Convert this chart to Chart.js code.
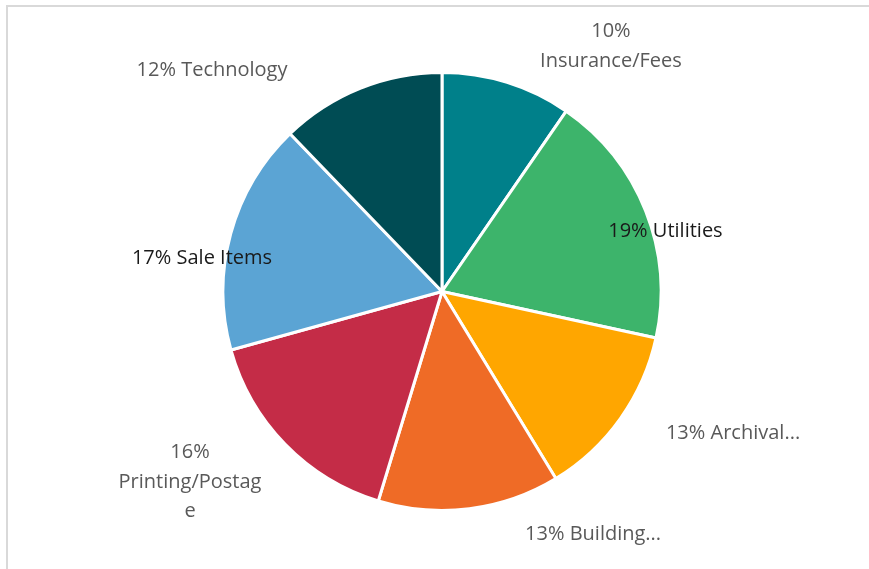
<!DOCTYPE html>
<html>
<head>
<meta charset="utf-8">
<title>Expenses</title>
<script src="https://cdn.jsdelivr.net/npm/chart.js@4.4.1/dist/chart.umd.min.js"></script>
<style>
    body { margin: 0; background: #fff; overflow: hidden; }
    #frame {
        position: absolute; left: 6px; top: 5px; width: 900px; height: 600px;
        border-left: 2px solid #d9d9d9; border-top: 2px solid #d9d9d9;
    }
    #wrap { position: absolute; left: 0; top: 0; width: 869px; height: 569px; }
</style>
</head>
<body>
<div id="frame"></div>
<div id="wrap"><canvas id="pieChart"></canvas></div>
<script>
// Slice data, clockwise from 12 o'clock
const categories = ['Insurance/Fees', 'Utilities', 'Archival', 'Building', 'Printing/Postage', 'Sale Items', 'Technology'];
const shares = [9.6, 18.8, 12.9, 13.4, 16.0, 17.1, 12.2];
const colors = ['#00808a', '#3db46b', '#ffa600', '#ef6b26', '#c42c47', '#5ba4d4', '#004c54'];

// Data label text as shown (one entry per line)
const labelLines = [
    ['10%', 'Insurance/Fees'],
    ['19% Utilities'],
    ['13% Archival...'],
    ['13% Building...'],
    ['16%', 'Printing/Postag', 'e'],
    ['17% Sale Items'],
    ['12% Technology']
];

// label anchor relative to the pie centre, in units of the radius
const labelAnchor = [
    [0.775, -1.133], [1.025, -0.284], [1.335, 0.642], [0.693, 1.106],
    [-1.156, 0.865], [-1.101, -0.161], [-1.055, -1.023]
];
const labelColor = ['#595959', '#1a1a1a', '#595959', '#595959', '#595959', '#1a1a1a', '#595959'];

const sliceLabels = {
    id: 'sliceLabels',
    afterDatasetsDraw(chart) {
        const ctx = chart.ctx;
        const arcs = chart.getDatasetMeta(0).data;
        ctx.save();
        ctx.font = '20px "Open Sans", sans-serif';
        ctx.textAlign = 'center';
        ctx.textBaseline = 'middle';
        const lineHeight = 29.5;
        arcs.forEach((arc, i) => {
            const { x, y } = arc.getProps(['x', 'y'], true);
            const r = 218;
            const cx = x + labelAnchor[i][0] * r;
            const cy = y + labelAnchor[i][1] * r + 2;
            const lines = labelLines[i];
            const top = cy - (lines.length - 1) * lineHeight / 2;
            ctx.fillStyle = labelColor[i];
            lines.forEach((line, j) => {
                ctx.fillText(line, cx, top + j * lineHeight);
            });
        });
        ctx.restore();
    }
};

function createChart() {
    const ctx = document.getElementById('pieChart').getContext('2d');
    new Chart(ctx, {
        type: 'pie',
        data: {
            labels: categories,
            datasets: [{
                data: shares,
                backgroundColor: colors,
                borderColor: '#ffffff',
                borderWidth: 3
            }]
        },
        options: {
            responsive: true,
            maintainAspectRatio: false,
            animation: false,
            layout: {
                padding: { top: 71, bottom: 57, left: 15, right: 0 }
            },
            plugins: {
                legend: { display: false },
                tooltip: { enabled: false }
            }
        },
        plugins: [sliceLabels]
    });
}

document.addEventListener('DOMContentLoaded', createChart);
</script>
</body>
</html>
